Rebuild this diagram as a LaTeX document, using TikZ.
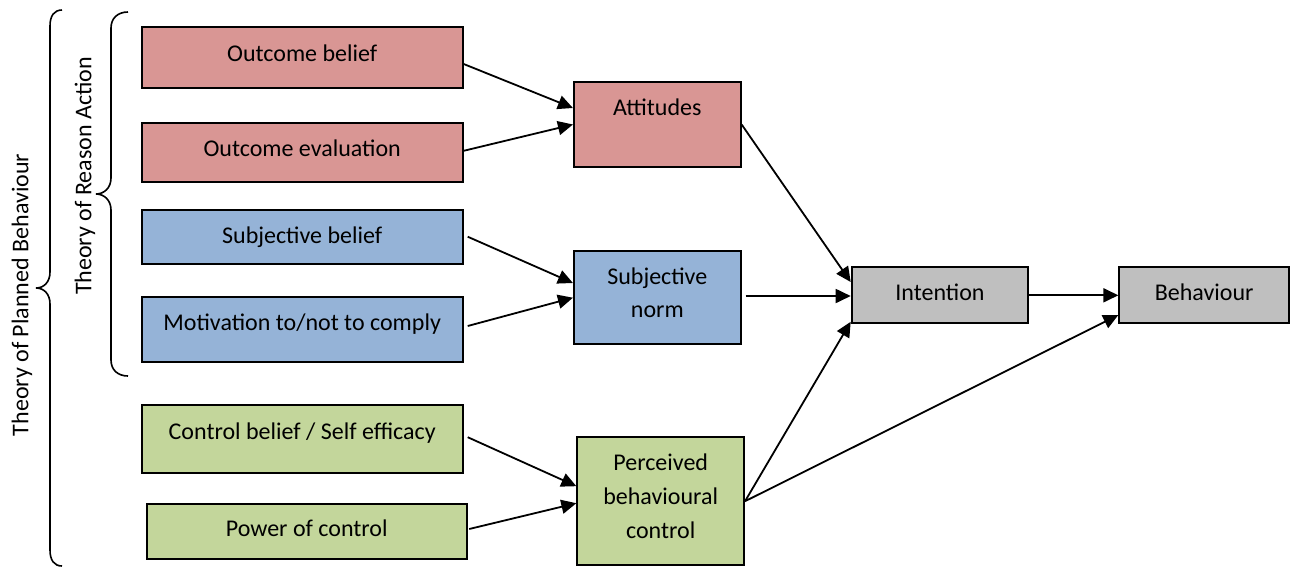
\documentclass[tikz,border=0pt]{standalone}
\usepackage{fontspec}
\setmainfont{Carlito}
\usetikzlibrary{arrows.meta,calc}
\definecolor{cred}{HTML}{D99694}
\definecolor{cblue}{HTML}{95B3D7}
\definecolor{cgreen}{HTML}{C3D69B}
\definecolor{cgray}{HTML}{BFBFBF}
\tikzset{
  box/.style={draw=black, line width=2pt, inner sep=0pt, rectangle},
  txt/.style={inner sep=0pt, anchor=base, font=\fontsize{24}{33.5}\selectfont},
  sidetxt/.style={inner sep=0pt, anchor=center, rotate=90, font=\fontsize{24}{33.5}\selectfont},
  conn/.style={line width=1.8pt, -{Triangle[length=15pt,width=14pt]}},
  bracepath/.style={line width=1.6pt}
}
\begin{document}
\begin{tikzpicture}[x=1pt,y=-1pt]
\useasboundingbox (0,0) rectangle (1291,566);
% boxes
\node[box, fill=cred, minimum width=321pt, minimum height=60.4pt] (ob) at (302.2,57.5) {};
\node[box, fill=cred, minimum width=321pt, minimum height=59pt] (oe) at (302.2,152.8) {};
\node[box, fill=cblue, minimum width=321pt, minimum height=54pt] (sb) at (302.2,236.7) {};
\node[box, fill=cblue, minimum width=321pt, minimum height=64.4pt] (mo) at (302.2,329.5) {};
\node[box, fill=cgreen, minimum width=321pt, minimum height=68.3pt] (cb) at (302.2,439.2) {};
\node[box, fill=cgreen, minimum width=320pt, minimum height=55.3pt] (pc) at (306.7,531.7) {};
\node[box, fill=cred, minimum width=166.7pt, minimum height=85.6pt] (att) at (657.3,124.5) {};
\node[box, fill=cblue, minimum width=166.7pt, minimum height=93.3pt] (sn) at (657.3,297.7) {};
\node[box, fill=cgreen, minimum width=166.7pt, minimum height=127.7pt] (pbc) at (660.7,501.2) {};
\node[box, fill=cgray, minimum width=176.6pt, minimum height=56pt] (int) at (940,295.3) {};
\node[box, fill=cgray, minimum width=169.7pt, minimum height=56pt] (beh) at (1204.2,295.3) {};
% texts
\node[txt] (obt) at (302.2,61.7) {Outcome belief};
\node[txt] (oet) at (302.2,156.7) {Outcome evaluation};
\node[txt] (sbt) at (302.2,243) {Subjective belief};
\node[txt] (mot) at (302.2,330) {Motivation to/not to comply};
\node[txt] (cbt) at (302.2,439.3) {Control belief / Self efficacy};
\node[txt] (pct) at (306.7,536.7) {Power of control};
\node[txt] (attt) at (657.3,115) {Attitudes};
\node[txt] (snt1) at (657.3,284.3) {Subjective};
\node[txt] (snt2) at (657.3,317.7) {norm};
\node[txt] (pbt1) at (660.7,470) {Perceived};
\node[txt] (pbt2) at (660.7,504) {behavioural};
\node[txt] (pbt3) at (660.7,538.3) {control};
\node[txt] (intt) at (940,300) {Intention};
\node[txt] (beht) at (1204.2,300) {Behaviour};
% side labels
\node[sidetxt] (tpb) at (22,295) {Theory of Planned Behaviour};
\node[sidetxt] (tra) at (85,176) {Theory of Reason Action};
% braces
\draw[bracepath] (62,10) .. controls (54,10) and (50,16) .. (50,26) -- (50,272)
  .. controls (50,282) and (44,288) .. (36,288) .. controls (44,288) and (50,294) .. (50,304)
  -- (50,550) .. controls (50,560) and (54,566) .. (62,566);
\draw[bracepath] (128,12) .. controls (118,12) and (111,18) .. (111,28) -- (111,178)
  .. controls (111,188) and (104,194) .. (96,194) .. controls (104,194) and (111,200) .. (111,210)
  -- (111,360) .. controls (111,370) and (118,376) .. (128,376);
% connectors
\draw[conn] ($(ob.east)+(0,6.5)$) -- ($(att.west)+(0,-16.5)$);
\draw[conn] ($(oe.east)+(0,-2)$) -- (att.west);
\draw[conn] ($(sb.east)+(4,0)$) -- ($(sn.west)+(0,-14.7)$);
\draw[conn] ($(mo.east)+(4,-3.5)$) -- (sn.west);
\draw[conn] ($(cb.east)+(4,-2)$) -- ($(pbc.west)+(0,-15)$);
\draw[conn] ($(pc.east)+(1.5,-2.7)$) -- ($(pbc.west)+(0,2)$);
\draw[conn] (att.east) -- ($(int.west)+(0,-13.3)$);
\draw[conn] ($(sn.east)+(4,-1.7)$) -- ($(int.west)+(0,0.7)$);
\draw[conn] (pbc.east) -- ($(int.west)+(0,26.5)$);
\draw[conn] (pbc.east) -- ($(beh.west)+(0,19.7)$);
\draw[conn] (int.east) -- (beh.west);
\end{tikzpicture}
\end{document}
